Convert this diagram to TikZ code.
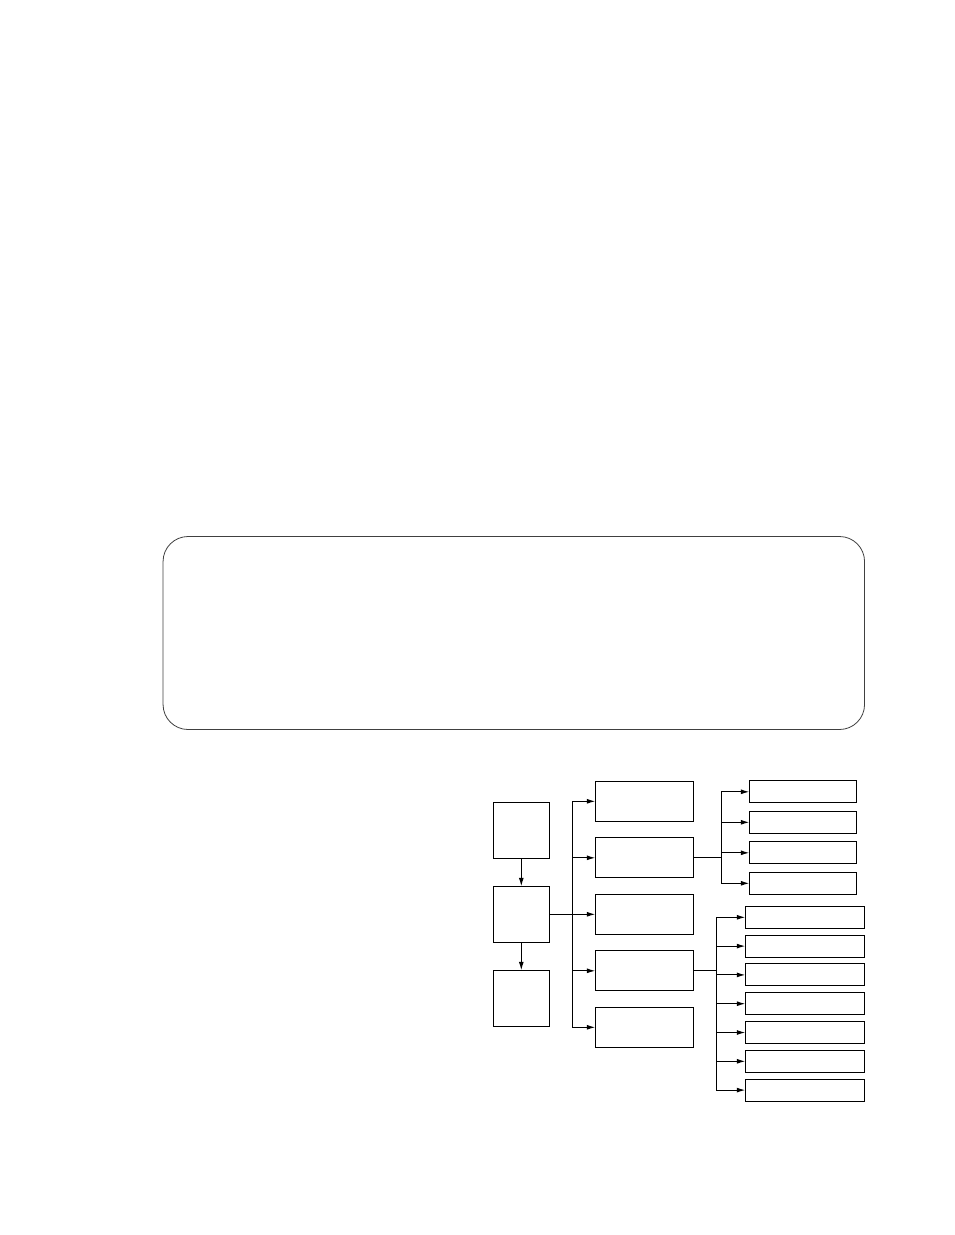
\documentclass[tikz,border=0pt]{standalone}
\usepackage{tikz}
\usetikzlibrary{arrows.meta, positioning}
\tikzstyle{panel} = [rectangle, rounded corners=25pt,
minimum width=701.5pt,
minimum height=193pt,
draw=black!75,
line width=0.8pt]
\tikzstyle{tallbox} = [rectangle,
minimum width=56pt,
minimum height=56pt,
inner sep=0pt, outer sep=0pt,
draw=black, line width=1.1pt]
\tikzstyle{midbox} = [rectangle,
minimum width=98pt,
minimum height=40pt,
inner sep=0pt, outer sep=0pt,
draw=black, line width=1.1pt]
\tikzstyle{upbox} = [rectangle,
minimum width=107.4pt,
minimum height=22pt,
inner sep=0pt, outer sep=0pt,
draw=black, line width=1.1pt]
\tikzstyle{lowbox} = [rectangle,
minimum width=119pt,
minimum height=22pt,
inner sep=0pt, outer sep=0pt,
draw=black, line width=1.1pt]
\tikzstyle{arrow} = [line width=1.1pt,-{Latex[length=8.5pt,width=5pt]}]
\tikzstyle{line} = [line width=1.1pt,-]
\begin{document}
\begin{tikzpicture}[x=1pt, y=1pt]
\useasboundingbox (0,0) rectangle (954,-1235);

\node (frame) [panel] at (513.8,-633) {};

% left column
\node (s1) [tallbox] at (521.3,-830.3) {};
\node (s2) [tallbox, below=28pt of s1] {};
\node (s3) [tallbox, below=28pt of s2] {};
\draw[arrow] (s1) -- (s2);
\draw[arrow] (s2) -- (s3);

% middle column
\node (m3) [midbox, right=46pt of s2] {};
\node (m2) [midbox, above=16.5pt of m3] {};
\node (m1) [midbox, above=16.5pt of m2] {};
\node (m4) [midbox, below=16.5pt of m3] {};
\node (m5) [midbox, below=16.5pt of m4] {};
\coordinate[right=23pt of s2] (hub);
\draw[line] (s2) -- (hub);
\draw[arrow] (hub) |- (m1);
\draw[arrow] (hub) |- (m2);
\draw[arrow] (hub) -- (m3);
\draw[arrow] (hub) |- (m4);
\draw[arrow] (hub) |- (m5);

% upper branch
\node (u1) [upbox, right=56pt of m1, yshift=9.5pt] {};
\node (u2) [upbox, below=8.5pt of u1] {};
\node (u3) [upbox, below=8.5pt of u2] {};
\node (u4) [upbox, below=8.5pt of u3] {};
\coordinate[right=28pt of m2] (uhub);
\draw[line] (m2) -- (uhub);
\draw[arrow] (uhub) |- (u1);
\draw[arrow] (uhub) |- (u2);
\draw[arrow] (uhub) |- (u3);
\draw[arrow] (uhub) |- (u4);

% lower branch
\node (l1) [lowbox, right=52pt of m4, yshift=53.5pt] {};
\node (l2) [lowbox, below=6.8pt of l1] {};
\node (l3) [lowbox, below=6.8pt of l2] {};
\node (l4) [lowbox, below=6.8pt of l3] {};
\node (l5) [lowbox, below=6.8pt of l4] {};
\node (l6) [lowbox, below=6.8pt of l5] {};
\node (l7) [lowbox, below=6.8pt of l6] {};
\coordinate[right=23pt of m4] (lhub);
\draw[line] (m4) -- (lhub);
\draw[arrow] (lhub) |- (l1);
\draw[arrow] (lhub) |- (l2);
\draw[arrow] (lhub) |- (l3);
\draw[arrow] (lhub) |- (l4);
\draw[arrow] (lhub) |- (l5);
\draw[arrow] (lhub) |- (l6);
\draw[arrow] (lhub) |- (l7);

\end{tikzpicture}
\end{document}
